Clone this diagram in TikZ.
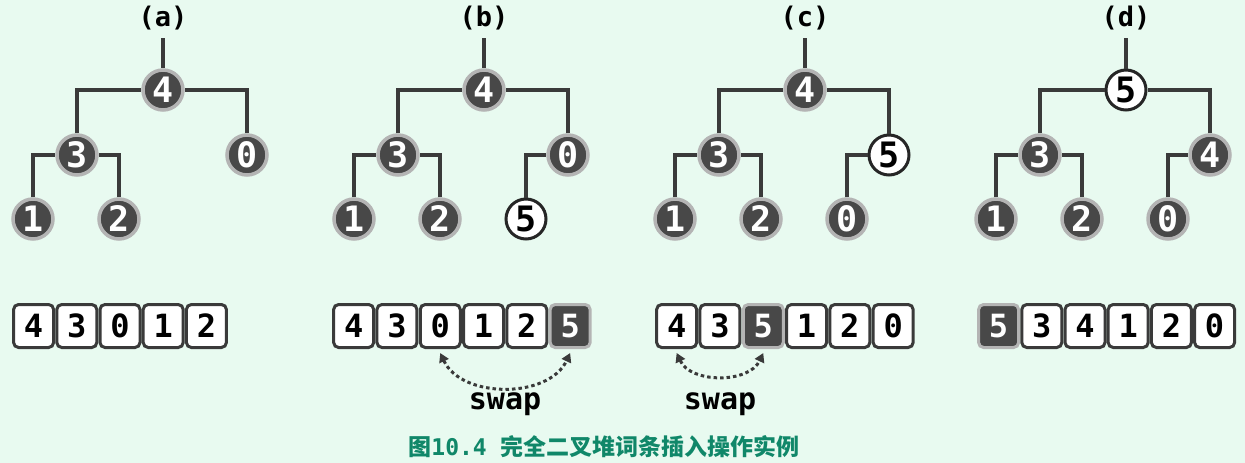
\documentclass[tikz,border=0pt]{standalone}
\usepackage{fontspec}
\setmonofont{DejaVu Sans Mono}
\newfontfamily\cjk{Noto Sans CJK SC}
\usetikzlibrary{arrows.meta}
\definecolor{bg}{RGB}{232,250,240}
\definecolor{nodedark}{RGB}{72,72,72}
\definecolor{ringgray}{RGB}{180,180,180}
\definecolor{edgedark}{RGB}{58,58,58}
\definecolor{captioncol}{RGB}{16,135,105}
\tikzset{
  hn/.style={circle, minimum size=40pt, inner sep=0pt, fill=nodedark, draw=ringgray,
    line width=3.5pt, text=white, font=\ttfamily\bfseries\fontsize{35}{35}\selectfont},
  hw/.style={hn, fill=white, draw=black!85, line width=3pt, text=black},
  cellbox/.style={rectangle, rounded corners=5pt, minimum width=40pt, minimum height=43pt,
    inner sep=0pt, draw=edgedark, line width=3pt, fill=white, text=black,
    font=\ttfamily\bfseries\fontsize{32}{32}\selectfont},
  cellx/.style={cellbox, fill=nodedark, draw=ringgray, text=white},
  edge/.style={line width=4pt, draw=edgedark},
  plabel/.style={font=\ttfamily\bfseries\fontsize{27}{27}\selectfont, text=black},
  swaparrow/.style={line width=3pt, draw=edgedark, dash pattern=on 3.5pt off 3pt,
    {Triangle[length=9pt,width=10pt]}-{Triangle[length=9pt,width=10pt]}},
  swaplabel/.style={font=\ttfamily\bfseries\fontsize{30}{30}\selectfont, text=black},
}
\begin{document}
\begin{tikzpicture}[x=1pt,y=-1pt]
\fill[bg] (0,0) rectangle (1245,463);
\useasboundingbox (0,0) rectangle (1245,463);

% ---------- (a)
\node[plabel] (la) at (163,18) {(a)};
\coordinate (ta) at (163,38);
\node[hn] (a4) at (163,90) {4};
\node[hn] (a3) at (77,155) {3};
\node[hn] (a0) at (247,155) {0};
\node[hn] (a1) at (33,219) {1};
\node[hn] (a2) at (119,219) {2};
\draw[edge] (ta) -- (a4);
\draw[edge] (a3) |- (a4);
\draw[edge] (a0) |- (a4);
\draw[edge] (a1) |- (a3);
\draw[edge] (a2) |- (a3);
\foreach \v [count=\i] in {4,3,0,1,2}
  \node[cellbox] (ac\i) at ({12+43.2*(\i-0.5)},326) {\v};

% ---------- (b)
\node[plabel] (lb) at (484,18) {(b)};
\coordinate (tb) at (484,38);
\node[hn] (b4) at (484,90) {4};
\node[hn] (b3) at (398,155) {3};
\node[hn] (b0) at (568,155) {0};
\node[hn] (b1) at (354,219) {1};
\node[hn] (b2) at (440,219) {2};
\node[hw] (b5) at (526,219) {5};
\draw[edge] (tb) -- (b4);
\draw[edge] (b3) |- (b4);
\draw[edge] (b0) |- (b4);
\draw[edge] (b1) |- (b3);
\draw[edge] (b2) |- (b3);
\draw[edge] (b5) |- (b0);
\foreach \v [count=\i] in {4,3,0,1,2}
  \node[cellbox] (bc\i) at ({332+43.3*(\i-0.5)},326) {\v};
\node[cellx] (bc6) at ({332+43.3*5.5},326) {5};
\draw[swaparrow] ([yshift=-4pt]bc3.south) to[out=-65,in=-115] ([yshift=-4pt]bc6.south);
\node[swaplabel] (sb) at (505,404) {swap};

% ---------- (c)
\node[plabel] (lc) at (805,18) {(c)};
\coordinate (tc) at (805,38);
\node[hn] (c4) at (805,90) {4};
\node[hn] (c3) at (719,155) {3};
\node[hw] (c5) at (889,155) {5};
\node[hn] (c1) at (675,219) {1};
\node[hn] (c2) at (761,219) {2};
\node[hn] (c0) at (847,219) {0};
\draw[edge] (tc) -- (c4);
\draw[edge] (c3) |- (c4);
\draw[edge] (c5) |- (c4);
\draw[edge] (c1) |- (c3);
\draw[edge] (c2) |- (c3);
\draw[edge] (c0) |- (c5);
\node[cellbox] (cc1) at ({655+43.3*0.5},326) {4};
\node[cellbox] (cc2) at ({655+43.3*1.5},326) {3};
\node[cellx]   (cc3) at ({655+43.3*2.5},326) {5};
\node[cellbox] (cc4) at ({655+43.3*3.5},326) {1};
\node[cellbox] (cc5) at ({655+43.3*4.5},326) {2};
\node[cellbox] (cc6) at ({655+43.3*5.5},326) {0};
\draw[swaparrow] ([yshift=-4pt]cc1.south) to[out=-65,in=-115] ([yshift=-4pt]cc3.south);
\node[swaplabel] (sc) at (720,404) {swap};

% ---------- (d)
\node[plabel] (ld) at (1126,18) {(d)};
\coordinate (td) at (1126,38);
\node[hw] (d5) at (1126,90) {5};
\node[hn] (d3) at (1040,155) {3};
\node[hn] (d4) at (1210,155) {4};
\node[hn] (d1) at (996,219) {1};
\node[hn] (d2) at (1082,219) {2};
\node[hn] (d0) at (1168,219) {0};
\draw[edge] (td) -- (d5);
\draw[edge] (d3) |- (d5);
\draw[edge] (d4) |- (d5);
\draw[edge] (d1) |- (d3);
\draw[edge] (d2) |- (d3);
\draw[edge] (d0) |- (d4);
\node[cellx] (dc1) at ({977+43.2*0.5},326) {5};
\foreach \v [count=\i from 2] in {3,4,1,2,0}
  \node[cellbox] (dc\i) at ({977+43.2*(\i-0.5)},326) {\v};

% ---------- caption
\node[font=\cjk\bfseries\fontsize{23}{23}\selectfont, text=captioncol] (cap) at (604,447)
  {图{\ttfamily\bfseries 10.4}\hspace{0.6em}完全二叉堆词条插入操作实例};
\end{tikzpicture}
\end{document}
